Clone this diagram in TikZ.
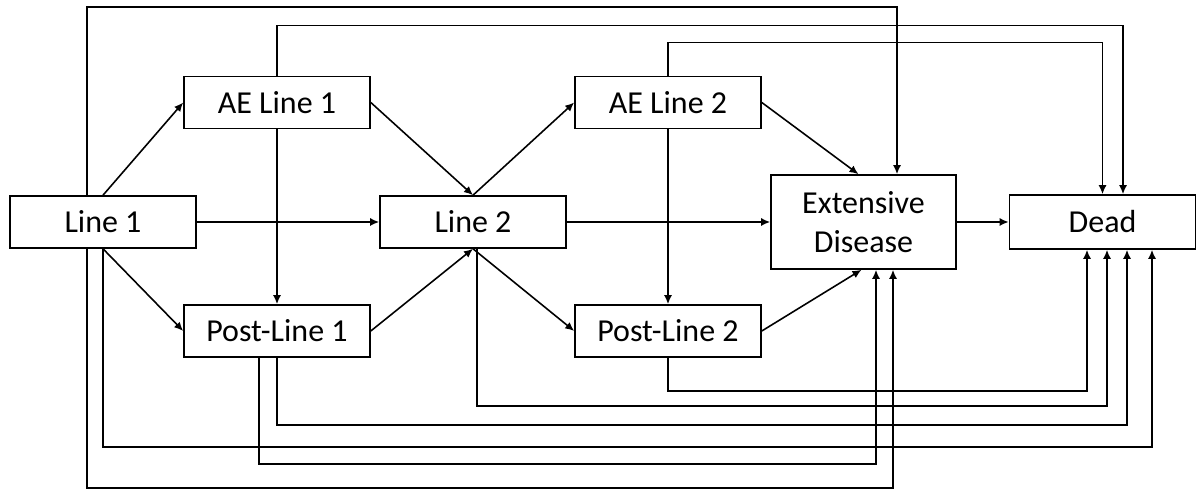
\documentclass[tikz,border=0pt]{standalone}
\usepackage{fontspec}
\setmainfont{Carlito}
\usetikzlibrary{arrows.meta,calc}

\begin{document}
\begin{tikzpicture}[x=0.2mm,y=-0.2mm,line width=0.9pt,>={Latex[length=1.8mm,width=1.6mm]},
    box/.style={draw,minimum width=37.2mm,minimum height=10.4mm,inner sep=0pt,align=center,font=\fontsize{18.2}{22}\selectfont}]
    \useasboundingbox (0,0) rectangle (1202,489);
    \draw (103,222)node[box] (l1) {Line 1};
    \draw (277,102.5)node[box] (ae1) {AE Line 1};
    \draw (277,331)node[box] (pl1) {Post-Line 1};
    \draw (473,222)node[box] (l2) {Line 2};
    \draw (668,102.5)node[box] (ae2) {AE Line 2};
    \draw (668,331)node[box] (pl2) {Post-Line 2};
    \draw (863.5,222)node[box,minimum width=37mm,minimum height=18.8mm] (ed) {Extensive\\Disease};
    \draw (1102.5,222)node[box,minimum height=10.8mm] (dead) {Dead};
    \draw[->] (l1.north)--(ae1.west);
    \draw[->] (l1.south)--(pl1.west);
    \draw[->] (l1.east)--(l2.west);
    \draw[->] (ae1.south)--(pl1.north);
    \draw[->] (ae1.east)--(l2.north);
    \draw[->] (pl1.east)--(l2.south);
    \draw[->] (l2.north)--(ae2.west);
    \draw[->] (l2.south)--(pl2.west);
    \draw[->] (l2.east)--(ed.west);
    \draw[->] (ae2.south)--(pl2.north);
    \draw[->] (ae2.east)--($(ed.north)+(-5,0)$);
    \draw[->] (pl2.east)--($(ed.south)+(-2,0)$);
    \draw[->] (ed.east)--(dead.west);
    \draw[->] (ae1.north)--++(0,-50)-|($(dead.north)+(20.5,0)$);
    \draw[->] (ae2.north)--++(0,-33)-|(dead.north);
    \draw[->] ($(l1.north)+(-16,0)$)--++(0,-188)-|($(ed.north)+(33.5,0)$);
    \draw[->] ($(l1.south)+(-16,0)$)--++(0,239)-|($(ed.south)+(29.5,0)$);
    \draw[->] ($(pl1.south)+(-18,0)$)--++(0,106)-|($(ed.south)+(12.5,0)$);
    \draw[->] (pl2.south)--++(0,33)-|($(dead.south)+(-15.5,0)$);
    \draw[->] ($(l2.south)+(4,0)$)--++(0,157)-|($(dead.south)+(4.5,0)$);
    \draw[->] (pl1.south)--++(0,67)-|($(dead.south)+(24.5,0)$);
    \draw[->] (l1.south)--++(0,198)-|($(dead.south)+(49.5,0)$);
\end{tikzpicture}
\end{document}
